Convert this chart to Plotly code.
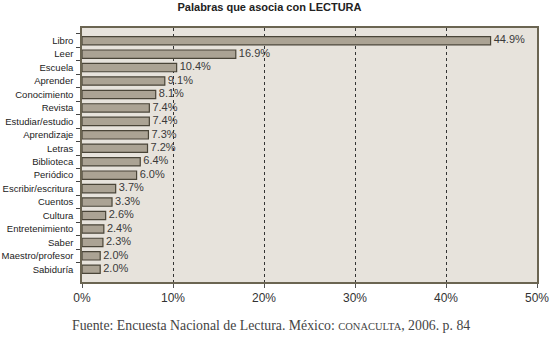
import plotly.graph_objects as go

categories = ["Libro", "Leer", "Escuela", "Aprender", "Conocimiento", "Revista",
              "Estudiar/estudio", "Aprendizaje", "Letras", "Biblioteca", "Periódico",
              "Escribir/escritura", "Cuentos", "Cultura", "Entretenimiento", "Saber",
              "Maestro/profesor", "Sabiduría"]
values = [44.9, 16.9, 10.4, 9.1, 8.1, 7.4, 7.4, 7.3, 7.2, 6.4, 6.0, 3.7, 3.3, 2.6, 2.4, 2.3, 2.0, 2.0]
tick_vals = [0, 10, 20, 30, 40, 50]
tick_text = ["0%", "10%", "20%", "30%", "40%", "50%"]
title = "Palabras que asocia con LECTURA"
source = ("Fuente: Encuesta Nacional de Lectura. México: "
          "<span style='font-size:10.5px'>CONACULTA</span>, 2006. p. 84")

fig = go.Figure()
fig.add_trace(go.Bar(
    y=categories, x=values, orientation="h",
    marker=dict(color="#aba394", line=dict(color="#4a4538", width=1.2)),
    width=0.62, hoverinfo="x+y",
))
fig.add_trace(go.Scatter(
    y=categories, x=values, mode="text",
    text=[f" {v:.1f}%" for v in values], textposition="middle right",
    textfont=dict(family="Arial, Liberation Sans", size=11, color="#3a3a3a"),
    cliponaxis=False, hoverinfo="skip",
))

fig.update_layout(
    width=550, height=339,
    margin=dict(l=82, r=13, t=28, b=57),
    paper_bgcolor="white", plot_bgcolor="#e7e3dc",
    showlegend=False,
    title=dict(text=f"<b>{title}</b>", x=0.49, xanchor="center", y=0.99, yanchor="top",
               font=dict(family="Arial, Liberation Sans", size=11, color="#222")),
    font=dict(family="Arial, Liberation Sans", color="#333"),
)
fig.update_xaxes(range=[0, 50], tickvals=tick_vals, ticktext=tick_text, automargin=False,
                 showgrid=True, gridcolor="#333", griddash="dot", gridwidth=1.3,
                 zeroline=False, ticks="outside", ticklen=4, tickcolor="#555",
                 tickfont=dict(size=12, color="#333"),
                 showline=True, linecolor="#6b6552", linewidth=1.5, mirror=True)
fig.update_yaxes(categoryorder="array", categoryarray=categories, autorange="reversed",
                 automargin=False, ticklabelstandoff=5,
                 ticks="outside", tickson="boundaries", ticklen=4, tickcolor="#444",
                 tickfont=dict(size=9.5, color="#222"),
                 showline=True, linecolor="#6b6552", linewidth=1.5, mirror=True,
                 showgrid=False)
fig.add_annotation(text=source, xref="paper", yref="paper", x=0.415, y=-0.135,
                   xanchor="center", yanchor="top", showarrow=False,
                   font=dict(family="Liberation Serif, Times New Roman, serif", size=13.8, color="#444"))

fig.write_html("out.html", config={"displayModeBar": False},
               post_script="document.body.style.margin='0';")
